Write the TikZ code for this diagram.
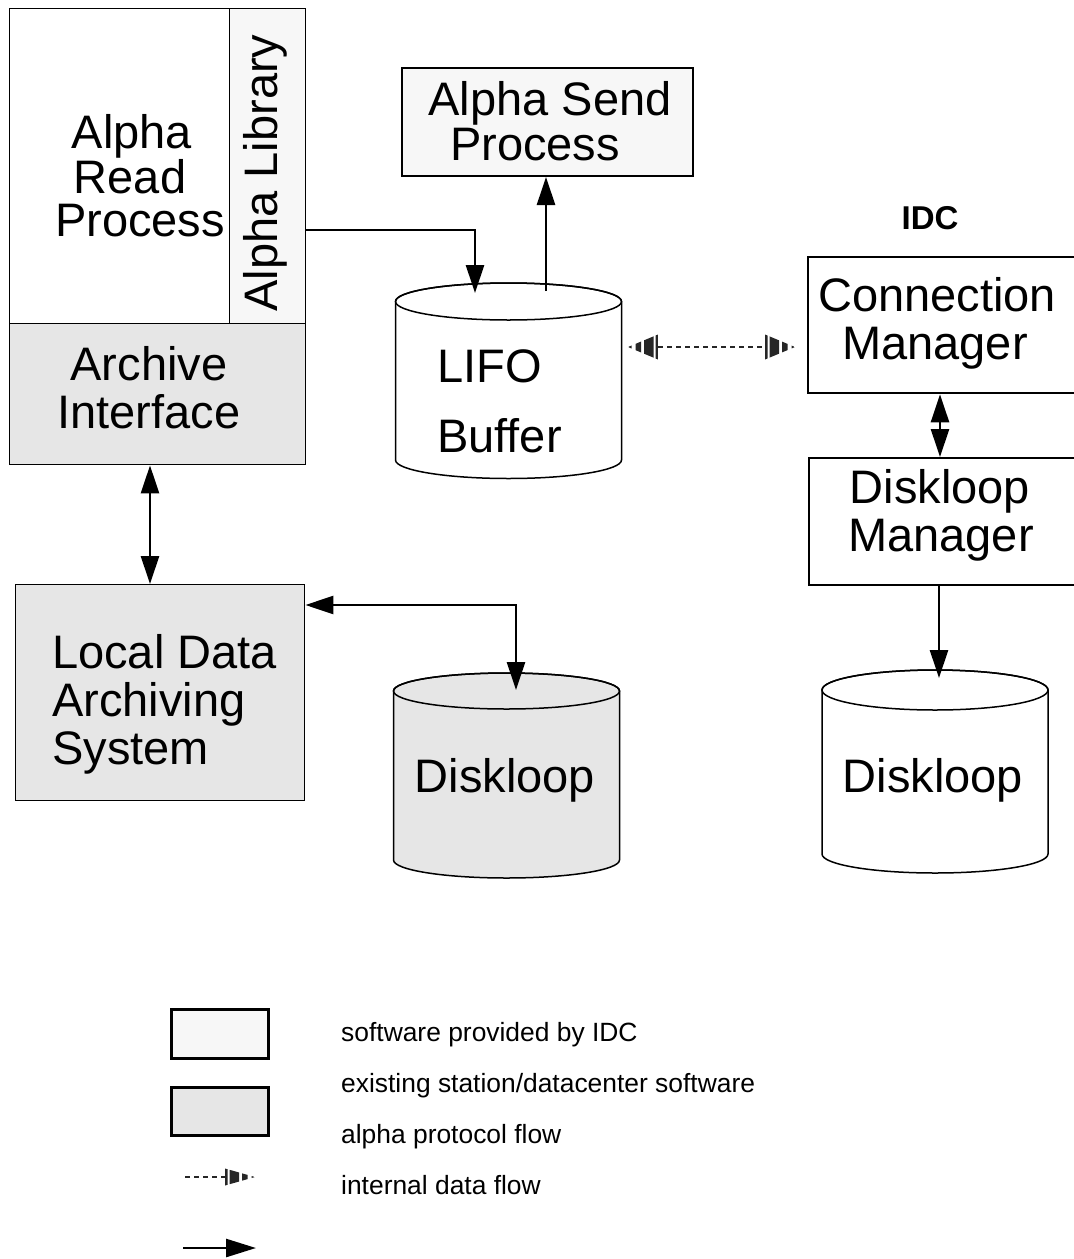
\documentclass[tikz,border=0pt]{standalone}
\usepackage{fontspec}
\setmainfont{Liberation Sans}
\usetikzlibrary{arrows.meta}
\definecolor{lite}{HTML}{F7F7F7}
\definecolor{gry}{HTML}{E6E6E6}
\tikzset{
  stripehead/.pic={
    \begin{scope}
      \clip (-0.5,-15) rectangle (-3.5,15) (-7.5,-15) rectangle (-13,15)
            (-16,-15) rectangle (-25.5,15) (-27.5,-15) rectangle (-30,15);
      \fill[black!85] (0,0) -- (-30,-12.5) -- (-30,12.5) -- cycle;
    \end{scope}
  }
}
\begin{document}
\begin{tikzpicture}[x=1pt,y=-1pt,
  >={Triangle[length=28pt,width=18pt]},
  box/.style={draw=black, inner sep=0pt, anchor=north west},
  thinbox/.style={box, line width=1.4pt},
  midbox/.style={box, line width=2pt},
  thickbox/.style={box, line width=2.3pt},
  legbox/.style={box, line width=3pt},
  cylline/.style={draw=black, line width=1.5pt},
  conn/.style={draw=black, line width=2.6pt},
  dline/.style={draw=black!85, line width=2pt, dash pattern=on 5pt off 4pt},
  big/.style={inner sep=0pt, font=\fontsize{47}{48}\selectfont},
  idcfont/.style={inner sep=0pt, font=\fontsize{33}{36}\selectfont\bfseries},
  legfont/.style={inner sep=0pt, anchor=base west, font=\fontsize{26.4}{30}\selectfont},
  hold/.style={inner sep=0pt, draw=none}
]
\useasboundingbox (0,0) rectangle (1074,1259);
\fill[white] (0,0) rectangle (1074,1259);
\begin{scope}
\clip (0,0) rectangle (1074,1259);

% ---- top-left stack
\node[thinbox, fill=white, minimum width=220, minimum height=315] (readp) at (9,8) {};
\node[thinbox, fill=lite, minimum width=76, minimum height=315] (alphalib) at (229,8) {};
\node[thinbox, fill=gry, minimum width=296, minimum height=141] (archive) at (9,323) {};
\node[big, anchor=base] (t1) at (132,148) {Alpha};
\node[big, anchor=base] (t2) at (130,193) {Read};
\node[big, anchor=base] (t3) at (140,236) {Process};
\node[big, anchor=base, rotate=90] (t4) at (277,173) {Alpha Library};
\node[big, anchor=base] (t5) at (149,380) {Archive};
\node[big, anchor=base] (t6) at (149,428) {Interface};

% ---- Alpha Send Process
\node[midbox, fill=lite, minimum width=291, minimum height=108] (send) at (401,67) {};
\node[big, anchor=base] (t7) at (550,115) {Alpha Send};
\node[big, anchor=base] (t8) at (535,160) {Process};

% ---- LIFO buffer cylinder
\node[hold, minimum width=227, minimum height=195] (lifo) at (508.5,380.5) {};
\filldraw[cylline, fill=white] (395.5,301.5) -- (395.5,460)
  arc[start angle=180, end angle=0, x radius=113, y radius=18.5] -- (621.5,301.5)
  arc[start angle=0, end angle=-180, x radius=113, y radius=18.5] -- cycle;
\draw[cylline] (508.5,301.5) ellipse[x radius=113, y radius=18.5];
\node[big, anchor=base west] (t9) at (437,382) {LIFO};
\node[big, anchor=base west] (t10) at (437,452) {Buffer};

% ---- Local Data Archiving System
\node[thinbox, fill=gry, minimum width=289, minimum height=216] (lda) at (15,584) {};
\node[big, anchor=base west] (t11) at (52,668) {Local Data};
\node[big, anchor=base west] (t12) at (52,716) {Archiving};
\node[big, anchor=base west] (t13) at (52,764) {System};

% ---- left Diskloop cylinder
\node[hold, minimum width=227, minimum height=205] (dl1) at (506.5,775.5) {};
\filldraw[cylline, fill=gry] (393.5,691) -- (393.5,860)
  arc[start angle=180, end angle=0, x radius=113, y radius=18] -- (619.5,691)
  arc[start angle=0, end angle=-180, x radius=113, y radius=18] -- cycle;
\draw[cylline] (506.5,691) ellipse[x radius=113, y radius=18];
\node[big, anchor=base] (t14) at (505,792) {Diskloop};

% ---- IDC side
\node[idcfont, anchor=base] (idc) at (930,229) {IDC};
\node[thickbox, fill=white, minimum width=285, minimum height=136] (cm) at (807,256) {};
\node[big, anchor=base] (t15) at (937,311) {Connection};
\node[big, anchor=base] (t16) at (935,359) {Manager};
\node[thickbox, fill=white, minimum width=285, minimum height=127] (dm) at (808,457) {};
\node[big, anchor=base] (t17) at (940,503) {Diskloop};
\node[big, anchor=base] (t18) at (941,551) {Manager};

% ---- right Diskloop cylinder
\node[hold, minimum width=227, minimum height=203] (dl2) at (935,771.5) {};
\filldraw[cylline, fill=white] (822,690) -- (822,854)
  arc[start angle=180, end angle=0, x radius=113, y radius=19] -- (1048,690)
  arc[start angle=0, end angle=-180, x radius=113, y radius=20] -- cycle;
\draw[cylline] (935,690) ellipse[x radius=113, y radius=20];
\node[big, anchor=base] (t19) at (933,792) {Diskloop};

% ---- connector helper coordinates
\coordinate (y230) at (0,230);
\coordinate (lifoIn) at (475,293);
\coordinate (lifoOut) at (546,291);
\coordinate (xA) at (150,0);
\coordinate (y605) at (0,605);
\coordinate (dl1In) at (516,690);
\coordinate (xC) at (940,0);
\coordinate (xD) at (939,0);
\coordinate (dl2In) at (939,678);
\coordinate (dashL) at (628,347);
\coordinate (dashR) at (795,347);

% ---- connectors
\draw[conn, ->] (alphalib.east |- y230) -| (lifoIn);
\draw[conn, ->] (lifoOut) -- (send.south -| lifoOut);
\draw[conn, <->] (archive.south -| xA) -- (lda.north -| xA);
\draw[conn, <->] (lda.east |- y605) -| (dl1In);
\draw[conn, <->] (cm.south -| xC) -- (dm.north -| xC);
\draw[conn, ->] (dm.south -| xD) -- (dl2In);
\draw[dline, shorten <=30pt, shorten >=30pt] (dashL) -- (dashR);
\pic at (dashR) {stripehead};
\pic[rotate=180] at (dashL) {stripehead};

% ---- legend
\node[legbox, fill=lite, minimum width=97, minimum height=49] (lg1) at (170,1008) {};
\node[legbox, fill=gry, minimum width=97, minimum height=48] (lg2) at (170,1086) {};
\coordinate (lgdA) at (185,1177);
\coordinate (lgdB) at (255,1177);
\draw[dline, shorten >=30pt] (lgdA) -- (lgdB);
\pic[yscale=0.68] at (lgdB) {stripehead};
\coordinate (lgaA) at (183,1248);
\coordinate (lgaB) at (256,1248);
\draw[conn, -{Triangle[length=30pt,width=18pt]}] (lgaA) -- (lgaB);
\node[legfont] (l1) at (341,1041) {software provided by IDC};
\node[legfont] (l2) at (341,1092) {existing station/datacenter software};
\node[legfont] (l3) at (341,1143) {alpha protocol flow};
\node[legfont] (l4) at (341,1194) {internal data flow};
\end{scope}
\end{tikzpicture}
\end{document}
